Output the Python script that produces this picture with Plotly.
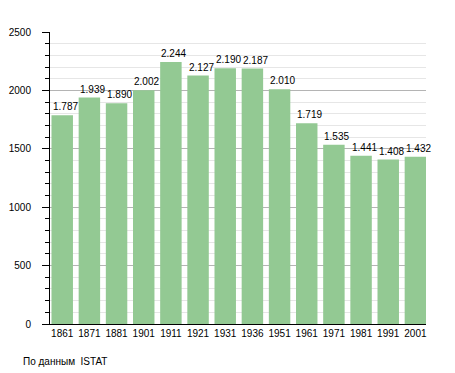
import plotly.graph_objects as go

years = ["1861", "1871", "1881", "1901", "1911", "1921", "1931", "1936", "1951", "1961", "1971", "1981", "1991", "2001"]
population = [1787, 1939, 1890, 2002, 2244, 2127, 2190, 2187, 2010, 1719, 1535, 1441, 1408, 1432]
labels = [f"{v:,}".replace(",", ".") for v in population]

FONT = "Liberation Sans, Arial"

fig = go.Figure(go.Bar(
    x=years, y=population,
    marker=dict(color="#93C993", line=dict(width=0)),
    hoverinfo="skip",
))

annotations = [dict(x=i, y=v, text=t, xref="x", yref="y", showarrow=False,
                    xanchor="center", yanchor="bottom", xshift=3, yshift=1,
                    font=dict(family=FONT, size=10, color="#000"))
               for i, (v, t) in enumerate(zip(population, labels))]
annotations.append(dict(text="По данным  ISTAT", x=-29/376, y=-37.5/292, xref="paper", yref="paper",
                        xanchor="left", yanchor="middle", showarrow=False,
                        font=dict(family=FONT, size=10, color="#000")))

fig.update_layout(
    width=447, height=365,
    margin=dict(l=42, r=29, t=24, b=49),
    paper_bgcolor="white", plot_bgcolor="white",
    bargap=0.21,
    showlegend=False,
    font=dict(family=FONT, size=10, color="#000"),
    xaxis=dict(type="category", range=[-0.45, 13.39], showline=True, linecolor="#000", linewidth=1,
               ticks="", tickfont=dict(size=10), showgrid=False, automargin=False),
    yaxis=dict(range=[0, 2500], dtick=500, showline=True, linecolor="#000", linewidth=1,
               ticks="outside", ticklen=7, tickcolor="#000", showgrid=True,
               gridcolor="#b4b4b4", gridwidth=1, zeroline=False, automargin=False,
               tickfont=dict(size=10), ticklabelstandoff=9,
               minor=dict(dtick=100, ticks="outside", ticklen=4, tickcolor="#000",
                          showgrid=True, gridcolor="#e6e6e6", gridwidth=1)),
    annotations=annotations,
)
fig.write_html("out.html")
